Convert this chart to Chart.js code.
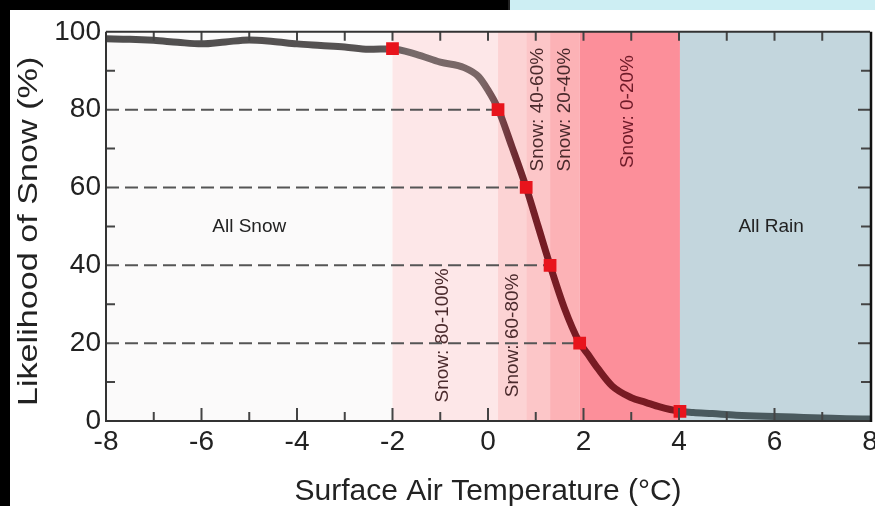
<!DOCTYPE html>
<html>
<head>
<meta charset="utf-8">
<script src="https://cdn.jsdelivr.net/npm/chart.js@4.4.0/dist/chart.umd.min.js"></script>
<style>
  body { margin: 0; background: #000; width: 875px; height: 506px; overflow: hidden; position: relative; }
  #strip { position: absolute; left: 508px; top: 0; width: 367px; height: 10px; background: #cdeef3; border-left: 2px solid #222; }
  #wrap { position: absolute; left: 10px; top: 10px; width: 900px; height: 496px; background: #fff; }
</style>
</head>
<body>
<div id="strip"></div>
<div id="wrap"><canvas id="chart" width="900" height="496"></canvas></div>
<script>
// curve: likelihood of snow vs surface air temperature
const tempX = [-8, -7.5, -7, -6.5, -6, -5.5, -5, -4.5, -4, -3.5, -3, -2.5, -2, -1.5, -1, -0.5, -0.2, 0, 0.2, 0.5, 0.8, 1.05, 1.3, 1.6, 1.9, 2.1, 2.3, 2.6, 3.0, 3.3, 3.6, 4.0, 4.3, 4.7, 5.2, 5.8, 6.4, 7.0, 7.5, 8];
const snowPct = [98.2, 98.1, 97.8, 97.3, 96.9, 97.4, 97.9, 97.5, 96.9, 96.5, 96.1, 95.5, 95.6, 94.2, 92.2, 90.8, 88.5, 85, 80.5, 70.5, 60, 50, 40, 29, 20.5, 17, 13.5, 9, 6, 4.8, 3.6, 2.5, 2.2, 1.9, 1.5, 1.2, 1.0, 0.8, 0.6, 0.5];

// red square markers
const markerX = [-2, 0.21, 0.8, 1.3, 1.92, 4.02];
const markerY = [95.7, 80, 60, 40, 20, 2.5];

// shaded bands (x edges)
const bandEdges = [-8, -2, 0.21, 0.8, 1.3, 1.92, 4.02, 8];

// text labels placed in data units
const bandLabels = ["Snow: 80-100%", "Snow: 60-80%", "Snow: 40-60%", "Snow: 20-40%", "Snow: 0-20%"];
const bandLabelX = [-0.95, 0.52, 1.05, 1.6, 2.93];
const bandLabelY = [22, 22, 80, 80, 79.5];
const regionLabels = ["All Snow", "All Rain"];
const regionLabelX = [-5, 5.93];
const regionLabelY = [50, 50];

const xTicks = [-8, -6, -4, -2, 0, 2, 4, 6, 8];
const yTicks = [0, 20, 40, 60, 80, 100];
const yTitle = "Likelihood of Snow (%)";

const FONT = "'Liberation Sans', Arial, sans-serif";
const bandColors = ["#fbfafa", "#fde7e8", "#fcd3d4", "#fcc6c8", "#fcb2b6", "#fc8f9a", "#c3d6dd"];
const bandTextColors = ["#4a2a2c", "#4a2a2c", "#4a2a2c", "#4a2a2c", "#6e1a28"];

const curve = tempX.map((x, i) => ({ x: x, y: snowPct[i] }));
const markers = markerX.map((x, i) => ({ x: x, y: markerY[i] }));
const dashSets = [1, 2, 3, 4].map(i => ({
  data: [{ x: -8, y: markerY[i] }, { x: markerX[i], y: markerY[i] }],
  borderColor: "#555",
  borderWidth: 2,
  borderDash: [13, 6],
  pointRadius: 0,
  showLine: true
}));

function curveColor(ctx) {
  const chart = ctx.chart;
  const area = chart.chartArea;
  if (!area) return "#555";
  const xs = chart.scales.x;
  const g = chart.ctx.createLinearGradient(area.left, 0, area.right, 0);
  const stop = (v, c) => g.addColorStop((xs.getPixelForValue(v) - area.left) / (area.right - area.left), c);
  stop(-8, "#4f4e4e");
  stop(-2.3, "#575353");
  stop(-1.6, "#776a6a");
  stop(-0.1, "#7a6666");
  stop(0.6, "#6e2830");
  stop(1.1, "#761c24");
  stop(3.98, "#7a1a22");
  stop(4.04, "#4a5a5e");
  stop(8, "#4a5a5e");
  return g;
}

const bandsPlugin = {
  id: "bands",
  beforeDatasetsDraw(chart) {
    const { ctx, chartArea: a, scales: { x, y } } = chart;
    ctx.save();
    for (let i = 0; i < bandEdges.length - 1; i++) {
      const x0 = x.getPixelForValue(bandEdges[i]);
      const x1 = x.getPixelForValue(bandEdges[i + 1]);
      ctx.fillStyle = bandColors[i];
      ctx.fillRect(x0, a.top, x1 - x0, a.bottom - a.top);
    }
    ctx.textAlign = "center";
    ctx.textBaseline = "middle";
    ctx.font = "19px " + FONT;
    ctx.fillStyle = "#222";
    regionLabels.forEach((t, i) => ctx.fillText(t, x.getPixelForValue(regionLabelX[i]), y.getPixelForValue(regionLabelY[i])));
    bandLabels.forEach((t, i) => {
      ctx.save();
      ctx.translate(x.getPixelForValue(bandLabelX[i]), y.getPixelForValue(bandLabelY[i]));
      ctx.rotate(-Math.PI / 2);
      ctx.fillStyle = bandTextColors[i];
      ctx.fillText(t, 0, 0);
      ctx.restore();
    });
    // y axis title, stretched along its length like the source
    ctx.save();
    ctx.translate(19, (a.top + a.bottom) / 2 + 5);
    ctx.rotate(-Math.PI / 2);
    ctx.scale(1.22, 1);
    ctx.font = "28px " + FONT;
    ctx.fillStyle = "#222";
    ctx.fillText(yTitle, 0, 0);
    ctx.restore();
    ctx.restore();
  },
  afterDatasetsDraw(chart) {
    const { ctx, chartArea: a, scales: { x, y } } = chart;
    ctx.save();
    ctx.lineCap = "butt";
    // inward ticks
    ctx.strokeStyle = "#444";
    ctx.lineWidth = 2;
    ctx.beginPath();
    for (let v = -7; v <= 7; v++) {
      const px = x.getPixelForValue(v);
      const len = v % 2 === 0 ? 13 : 9;
      ctx.moveTo(px, a.bottom); ctx.lineTo(px, a.bottom - len);
      ctx.moveTo(px, a.top); ctx.lineTo(px, a.top + 9);
    }
    for (let v = 10; v <= 90; v += 10) {
      const py = y.getPixelForValue(v);
      if (v % 20 !== 0) { ctx.moveTo(a.left, py); ctx.lineTo(a.left + 9, py); }
      ctx.moveTo(a.right, py); ctx.lineTo(a.right - (v % 20 === 0 ? 12 : 9), py);
    }
    ctx.stroke();
    // frame
    ctx.strokeStyle = "#333";
    ctx.beginPath();
    ctx.moveTo(a.left, a.top); ctx.lineTo(a.right, a.top);
    ctx.moveTo(a.left, a.top); ctx.lineTo(a.left, a.bottom);
    ctx.lineTo(a.right, a.bottom);
    ctx.stroke();
    ctx.strokeStyle = "#111";
    ctx.lineWidth = 2.5;
    ctx.beginPath();
    ctx.moveTo(a.right + 1, a.top); ctx.lineTo(a.right + 1, a.bottom + 1);
    ctx.stroke();
    ctx.restore();
  }
};

new Chart(document.getElementById("chart"), {
  type: "scatter",
  data: {
    datasets: [
      {
        data: markers,
        pointStyle: "rect",
        pointRadius: 9,
        pointHoverRadius: 9,
        backgroundColor: "#e8141c",
        borderWidth: 0,
        showLine: false
      },
      {
        data: curve,
        showLine: true,
        borderColor: curveColor,
        borderWidth: 7,
        borderCapStyle: "round",
        cubicInterpolationMode: "monotone",
        pointRadius: 0
      }
    ].concat(dashSets)
  },
  options: {
    responsive: false,
    animation: false,
    devicePixelRatio: 1,
    layout: { padding: { top: 15, right: 40, left: 0, bottom: 0 } },
    plugins: { legend: { display: false }, tooltip: { enabled: false } },
    scales: {
      x: {
        type: "linear",
        min: -8,
        max: 8,
        afterFit: s => { s.height = 85; },
        afterBuildTicks: s => { s.ticks = xTicks.map(v => ({ value: v })); },
        grid: { display: false, drawTicks: false },
        border: { display: false },
        ticks: { color: "#222", font: { family: FONT, size: 28 }, padding: 4, maxRotation: 0 },
        title: { display: true, text: "Surface Air Temperature (°C)", color: "#222", font: { family: FONT, size: 30 }, padding: { top: 0, bottom: -4 } }
      },
      y: {
        min: 0,
        max: 100,
        afterFit: s => { s.width = 96; },
        afterBuildTicks: s => { s.ticks = yTicks.map(v => ({ value: v })); },
        grid: { display: false, drawTicks: false },
        border: { display: false },
        ticks: { color: "#222", font: { family: FONT, size: 28 }, padding: 5 }
      }
    }
  },
  plugins: [bandsPlugin]
});
</script>
</body>
</html>
